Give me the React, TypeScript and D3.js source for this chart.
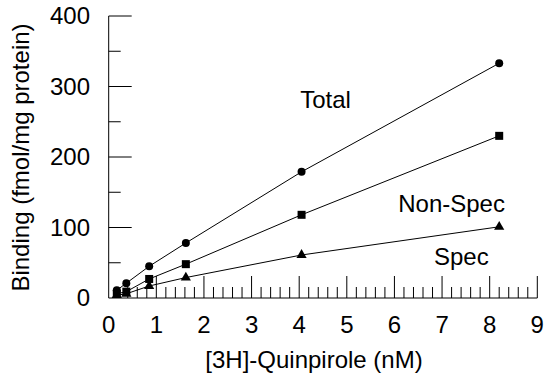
import React, { useRef, useEffect } from 'react';
import * as d3 from 'd3';

const conc = [0.17, 0.37, 0.85, 1.62, 4.05, 8.2];
const total = [11, 21, 45, 78, 179, 333];
const nonSpec = [6, 9, 27, 48, 118, 230];
const spec = [4, 6, 17, 29, 61, 101];

const seriesNames = ['Total', 'Non-Spec', 'Spec'];
const seriesValues = [total, nonSpec, spec];
const seriesMarkers = ['circle', 'square', 'triangle'];
// label anchor points in data units
const labelX = [4.02, 6.08, 6.83];
const labelY = [269, 122, 47];

const xTicks = [0, 1, 2, 3, 4, 5, 6, 7, 8, 9];
const yTicks = [0, 100, 200, 300, 400];

const W = 545;
const H = 379;

export default function App() {
  const svgRef = useRef<SVGSVGElement>(null);

  useEffect(() => {
    if (!svgRef.current) return;
    const svg = d3.select(svgRef.current);
    svg.selectAll('*').remove();

    const x = d3.scaleLinear().domain([0, 9]).range([108.7, 537.3]);
    const y = d3.scaleLinear().domain([0, 400]).range([298, 16]);
    const font = 'Arial, "Liberation Sans", sans-serif';

    const g = svg.append('g').attr('stroke', '#000').attr('fill', 'none');

    // axes lines
    g.append('line').attr('x1', x(0)).attr('x2', x(0)).attr('y1', y(0)).attr('y2', y(400));
    g.append('line').attr('x1', x(0)).attr('x2', x(9)).attr('y1', y(0)).attr('y2', y(0));

    // y ticks (inward)
    d3.range(50, 401, 50).forEach(v => {
      const major = v % 100 === 0;
      g.append('line')
        .attr('x1', x(0)).attr('x2', x(0) + (major ? 23 : 12))
        .attr('y1', y(v)).attr('y2', y(v));
    });

    // x ticks (inward)
    d3.range(0.2, 9.01, 0.2).forEach(v => {
      const major = Math.abs(v - Math.round(v)) < 1e-6;
      g.append('line')
        .attr('x1', x(v)).attr('x2', x(v))
        .attr('y1', y(0)).attr('y2', y(0) - (major ? 22 : 11));
    });

    const txt = svg.append('g').attr('font-family', font).attr('font-size', 24).attr('fill', '#000');

    yTicks.forEach(v => {
      txt.append('text')
        .attr('x', 90).attr('y', y(v)).attr('dy', '0.35em')
        .attr('text-anchor', 'end').text(v);
    });
    xTicks.forEach(v => {
      txt.append('text')
        .attr('x', x(v)).attr('y', 333)
        .attr('text-anchor', 'middle').text(v);
    });

    txt.append('text')
      .attr('x', (x(0) + x(9)) / 2 - 9).attr('y', 368)
      .attr('text-anchor', 'middle').text('[3H]-Quinpirole (nM)');

    txt.append('text')
      .attr('transform', `translate(29,157.5) rotate(-90)`)
      .attr('text-anchor', 'middle').text('Binding (fmol/mg protein)');

    // series
    const line = d3.line<number>().x((_, i) => x(conc[i])).y(d => y(d));
    seriesValues.forEach((vals, si) => {
      svg.append('path')
        .attr('d', line(vals))
        .attr('fill', 'none').attr('stroke', '#000').attr('stroke-width', 1);
      const m = seriesMarkers[si];
      vals.forEach((v, i) => {
        const cx = x(conc[i]);
        const cy = y(v);
        if (m === 'circle') {
          svg.append('circle').attr('cx', cx).attr('cy', cy).attr('r', 4).attr('fill', '#000');
        } else if (m === 'square') {
          svg.append('rect').attr('x', cx - 4).attr('y', cy - 4).attr('width', 8).attr('height', 8).attr('fill', '#000');
        } else {
          const sym = d3.symbol().type(d3.symbolTriangle).size(45);
          svg.append('path').attr('d', sym()).attr('transform', `translate(${cx},${cy})`).attr('fill', '#000');
        }
      });
      txt.append('text')
        .attr('x', x(labelX[si])).attr('y', y(labelY[si]))
        .text(seriesNames[si]);
    });
  }, []);

  return (
    <div style={{ position: 'absolute', left: 0, top: 0 }}>
      <svg ref={svgRef} width={W} height={H} style={{ display: 'block', background: '#fff' }} />
    </div>
  );
}
